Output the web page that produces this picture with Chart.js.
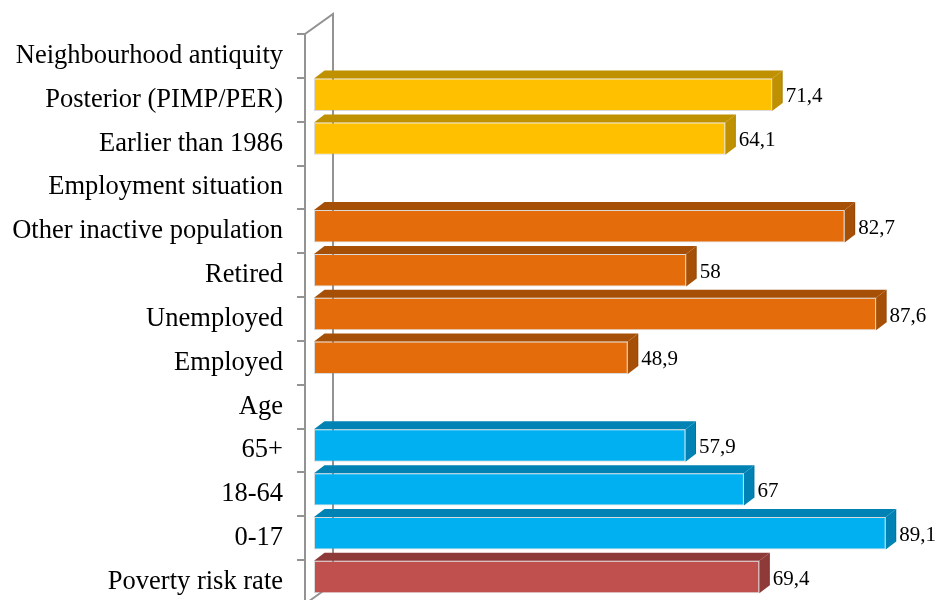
<!DOCTYPE html>
<html>
<head>
<meta charset="utf-8">
<script src="https://cdn.jsdelivr.net/npm/chart.js@4"></script>
<style>
  html, body { margin: 0; padding: 0; background: #fff; overflow: hidden; }
  #wrap { width: 938px; height: 600px; overflow: hidden; }
  canvas { display: block; }
</style>
</head>
<body>
<div id="wrap"><canvas id="c" width="938" height="606"></canvas></div>
<script>
// Categories from top to bottom; group headings carry no bar
const categories = [
  'Neighbourhood antiquity',
  'Posterior (PIMP/PER)',
  'Earlier than 1986',
  'Employment situation',
  'Other inactive population',
  'Retired',
  'Unemployed',
  'Employed',
  'Age',
  '65+',
  '18-64',
  '0-17',
  'Poverty risk rate'
];
const rates = [null, 71.4, 64.1, null, 82.7, 58, 87.6, 48.9, null, 57.9, 67, 89.1, 69.4];
const groupOf = ['antiquity', 'antiquity', 'antiquity', 'employment', 'employment', 'employment', 'employment', 'employment', 'age', 'age', 'age', 'age', 'total'];

const frontColors = { antiquity: '#FFC000', employment: '#E46C0A', age: '#00B0F0', total: '#C0504D' };
const sideColors  = { antiquity: '#BF9000', employment: '#A65007', age: '#0083B4', total: '#8E3A38' };

const DX = 10.5, DY = 8, LIFT = 5;
const SERIF = '"Liberation Serif", "Times New Roman", serif';

const fmt = v => String(v).replace('.', ',');

// Back wall of the 3D plot and the category tick marks
const wallPlugin = {
  id: 'wall',
  beforeDatasetsDraw(chart) {
    const { ctx, chartArea, scales } = chart;
    const y = scales.y;
    const front = chartArea.left - 9, back = chartArea.left + 19, depth = 20;
    const top = chartArea.top, bottom = chartArea.bottom;
    ctx.save();
    ctx.strokeStyle = '#939393';
    ctx.lineWidth = 2;
    ctx.beginPath();
    ctx.moveTo(front, bottom); ctx.lineTo(front, top); ctx.lineTo(back, top - depth); ctx.lineTo(back, bottom - depth);
    ctx.moveTo(front, bottom); ctx.lineTo(back, bottom - depth);
    const n = y.ticks.length;
    const step = (bottom - top) / n;
    for (let i = 0; i <= n; i++) {
      const ty = Math.round(top + i * step);
      ctx.moveTo(front - 8, ty); ctx.lineTo(front, ty);
    }
    ctx.stroke();
    ctx.restore();
    ctx.save();
    ctx.translate(0, -LIFT);
  },
  afterDatasetsDraw(chart) {
    const { ctx } = chart;
    const meta = chart.getDatasetMeta(0);
    meta.data.forEach((el, i) => {
      const v = rates[i];
      if (v === null || v === undefined) return;
      const p = el.getProps(['x', 'y', 'base', 'height'], true);
      const x0 = p.base, x1 = p.x, yt = p.y - p.height / 2, yb = p.y + p.height / 2;
      const g = groupOf[i];
      ctx.fillStyle = sideColors[g];
      ctx.beginPath();
      ctx.moveTo(x0, yt); ctx.lineTo(x0 + DX, yt - DY); ctx.lineTo(x1 + DX, yt - DY); ctx.lineTo(x1, yt);
      ctx.closePath(); ctx.fill();
      ctx.beginPath();
      ctx.moveTo(x1, yt); ctx.lineTo(x1 + DX, yt - DY); ctx.lineTo(x1 + DX, yb - DY); ctx.lineTo(x1, yb);
      ctx.closePath(); ctx.fill();
      ctx.fillStyle = 'rgba(0,0,0,0.12)';
      ctx.fillRect(x1 + DX - 1, yt - DY, 1, yb - yt);
      ctx.fillStyle = '#000';
      ctx.font = '21px ' + SERIF;
      ctx.textAlign = 'left';
      ctx.textBaseline = 'middle';
      ctx.fillText(fmt(v), x1 + DX + 3, p.y + 2);
    });
    ctx.restore();
  }
};

new Chart(document.getElementById('c'), {
  type: 'bar',
  data: {
    labels: categories,
    datasets: [{
      data: rates,
      backgroundColor: groupOf.map(g => frontColors[g]),
      borderColor: 'rgba(150,150,150,0.35)',
      borderWidth: 1,
      borderSkipped: false,
      categoryPercentage: 1,
      barPercentage: 0.74,
      clip: false
    }]
  },
  options: {
    indexAxis: 'y',
    responsive: false,
    animation: false,
    layout: { padding: { top: 34, right: 8, bottom: 2, left: 0 } },
    plugins: { legend: { display: false }, tooltip: { enabled: false } },
    scales: {
      x: { display: false, min: 0, max: 96 },
      y: {
        grid: { display: false },
        border: { display: false },
        ticks: {
          color: '#000',
          padding: 23,
          font: { family: SERIF, size: 26.5 },
          autoSkip: false
        },
        afterFit(scale) {
          scale.width = 314;
          scale.paddingTop = 0;
          scale.paddingBottom = 0;
        }
      }
    }
  },
  plugins: [wallPlugin]
});
</script>
</body>
</html>
